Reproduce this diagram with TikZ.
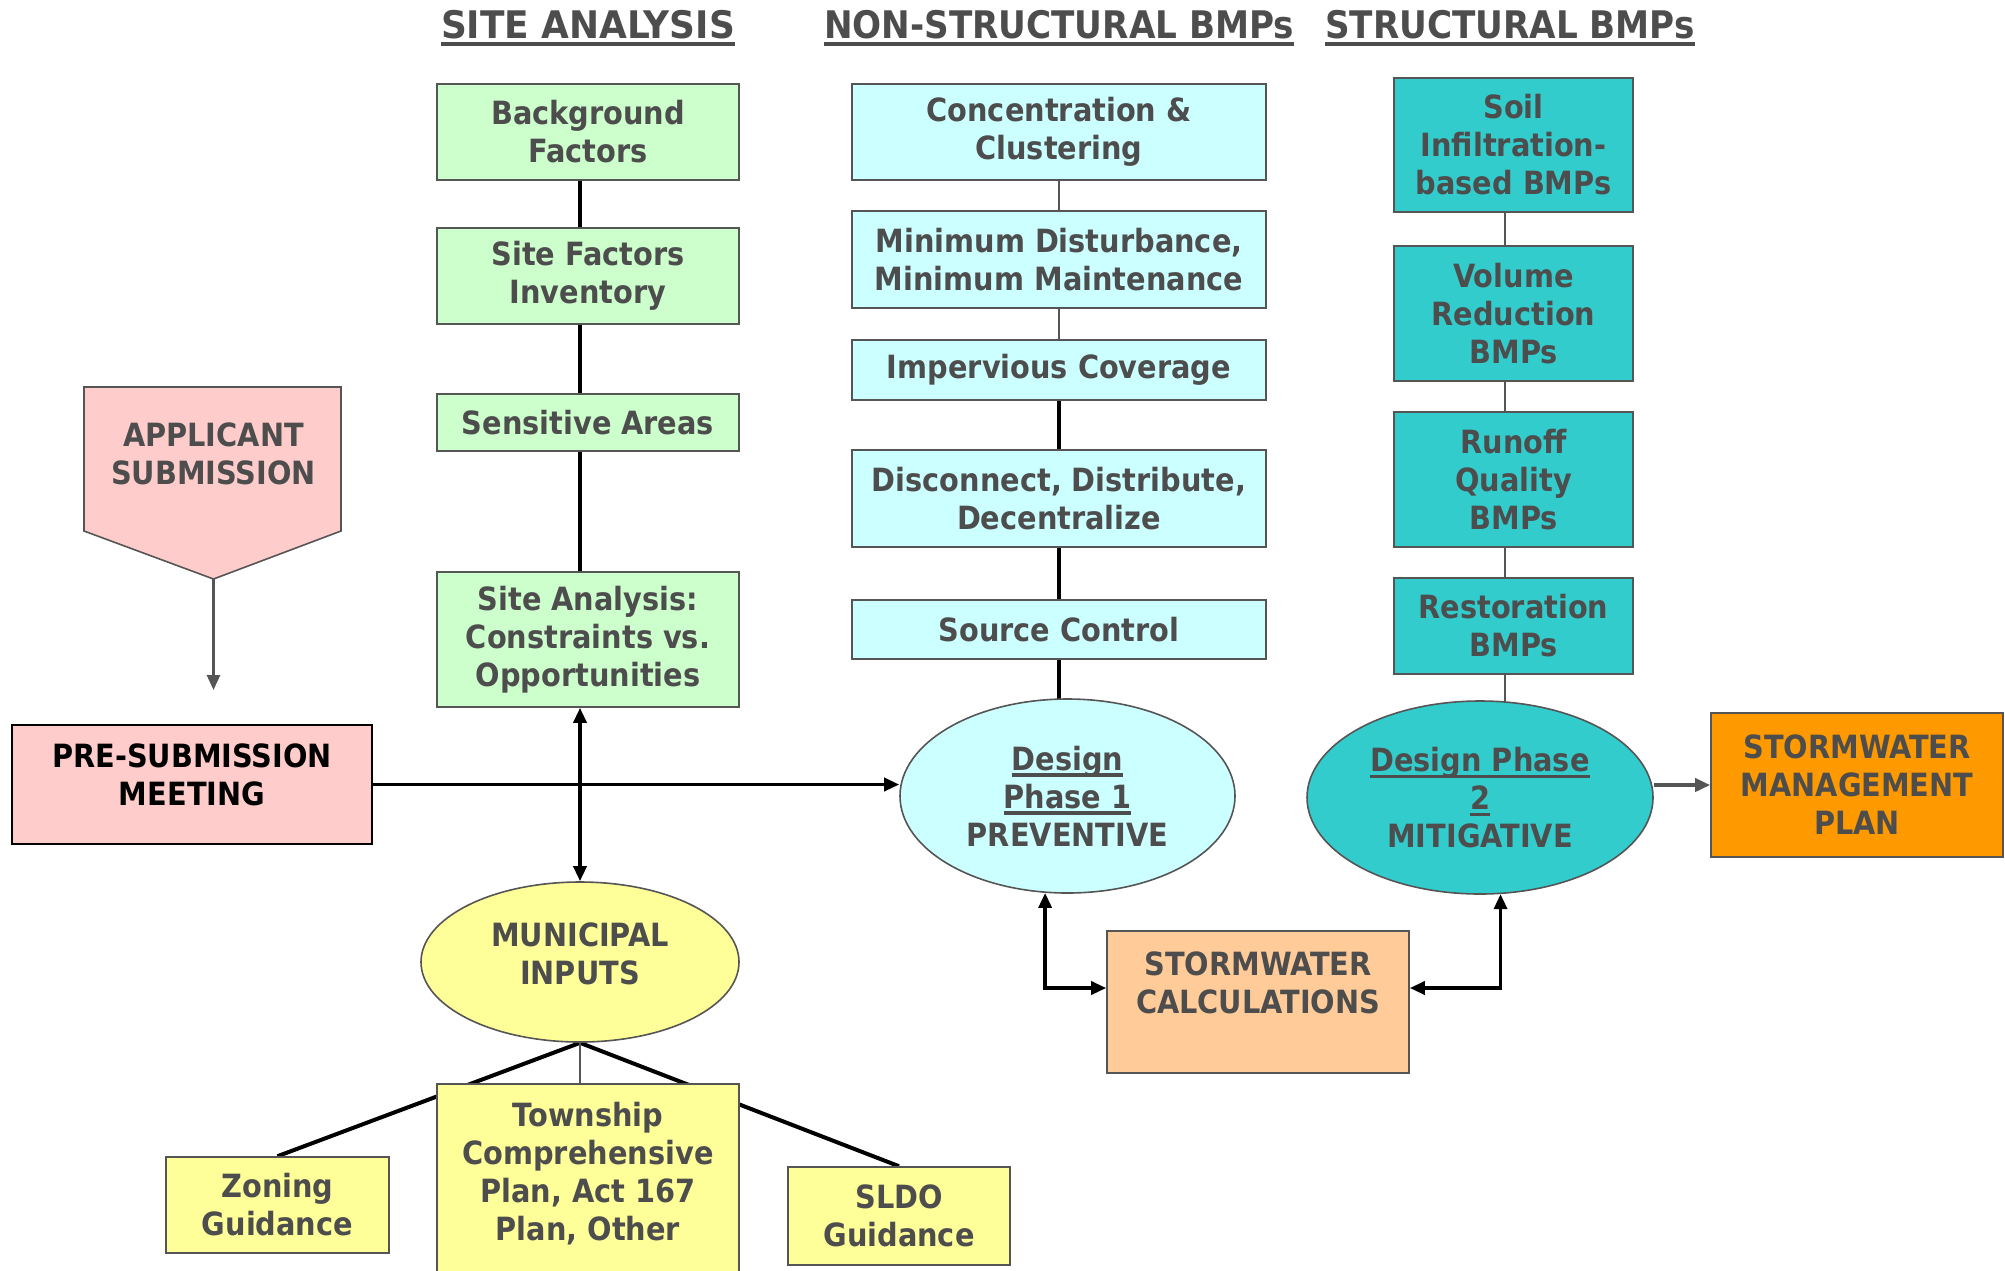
\documentclass[tikz,border=0pt]{standalone}
\usepackage{fontspec}
\setmainfont{DejaVu Sans Condensed}
\newcommand{\myul}[1]{\setbox0\hbox{#1}\rlap{\vrule width\wd0 height -1.6pt depth 3.2pt}\box0}
\usetikzlibrary{arrows.meta,backgrounds,calc,shapes.geometric}

\definecolor{txt}{HTML}{4D4D4D}
\definecolor{bord}{HTML}{555555}
\definecolor{cgreen}{HTML}{CCFFCC}
\definecolor{ccyan}{HTML}{CCFFFF}
\definecolor{cteal}{HTML}{33CCCC}
\definecolor{cpink}{HTML}{FFCCCC}
\definecolor{cyel}{HTML}{FFFF99}
\definecolor{corange}{HTML}{FF9900}
\definecolor{cpeach}{HTML}{FFCC99}

\tikzset{
  every node/.style={font=\bfseries\fontsize{16}{19}\selectfont, text=txt, align=center},
  box/.style={draw=bord, line width=0.8pt, inner sep=0pt},
  gbox/.style={box, fill=cgreen, minimum width=151pt},
  cbox/.style={box, fill=ccyan, minimum width=207pt},
  tbox/.style={box, fill=cteal, minimum width=119.5pt},
  ybox/.style={box, fill=cyel},
  ell/.style={ellipse, draw=bord, line width=0.8pt, inner sep=0pt},
  head/.style={font=\bfseries\fontsize{19}{22}\selectfont, inner sep=0pt, anchor=base},
  headline/.style={draw=txt, line width=2pt},
  blk/.style={draw=black, line width=1.7pt},
  gry/.style={draw=bord, line width=1.3pt},
  thk/.style={draw=black, line width=2pt},
  >={Triangle[length=7.5pt,width=6.5pt]},
}

\begin{document}
\begin{tikzpicture}[x=0.5pt,y=-0.5pt]
\useasboundingbox (0,0) rectangle (2005,1270);

% headings
\node[head] (h1) at (588,38) {\scalebox{1.05}[1]{SITE ANALYSIS}};
\node[head] (h2) at (1059,38) {NON-STRUCTURAL BMPs};
\node[head] (h3) at (1510,38) {STRUCTURAL BMPs};
\foreach \h in {h1,h2,h3}
  \draw[headline] ([yshift=-2.8pt]\h.base west) -- ([yshift=-2.8pt]\h.base east);

% site analysis column
\node[gbox, minimum height=48pt] (bg) at (588,132) {Background\\Factors};
\node[gbox, minimum height=48pt] (sf) at (588,276) {Site Factors\\Inventory};
\node[gbox, minimum height=28.5pt] (sa) at (588,422.5) {Sensitive Areas};
\node[gbox, minimum height=67.5pt] (sc) at (588,639.5) {Site Analysis:\\Constraints vs.\\Opportunities};

% non-structural column
\node[cbox, minimum height=48pt] (cc) at (1059,132) {Concentration \&\\Clustering};
\node[cbox, minimum height=48.5pt] (md) at (1059,259.5) {Minimum Disturbance,\\Minimum Maintenance};
\node[cbox, minimum height=30pt] (ic) at (1059,370) {Impervious Coverage};
\node[cbox, minimum height=48.5pt] (dd) at (1059,498.5) {Disconnect, Distribute,\\Decentralize};
\node[cbox, minimum height=29.5pt] (sco) at (1059,629.5) {Source Control};

% structural column
\node[tbox, minimum height=67pt] (si) at (1513.5,145) {Soil\\Infiltration-\\based BMPs};
\node[tbox, minimum height=67.5pt] (vr) at (1513.5,313.5) {Volume\\Reduction\\BMPs};
\node[tbox, minimum height=67.5pt] (rq) at (1513.5,479.5) {Runoff\\Quality\\BMPs};
\node[tbox, minimum height=48pt] (rb) at (1513.5,626) {Restoration\\BMPs};
\coordinate (tx) at (1505,0);

% applicant submission
\draw[draw=bord, fill=cpink, line width=0.8pt] (84,387) -- (341,387) -- (341,531) -- (213.5,579) -- (84,531) -- cycle;
\node (app) at (213.5,454) {APPLICANT\\SUBMISSION};
\coordinate (apptip) at (213.5,579);
\coordinate (append) at (213.5,690);

\node[box, draw=black, fill=cpink, minimum width=180pt, minimum height=59.5pt, text=black, text depth=10pt] (pre) at (192,784.5) {PRE-SUBMISSION\\MEETING};

% design phases
\node[ell, fill=ccyan, minimum width=167.5pt, minimum height=97pt] (p1) at (1067.5,796) {\myul{Design}\\\myul{Phase 1}\\PREVENTIVE};
\node[ell, fill=cteal, minimum width=173pt, minimum height=96.5pt] (p2) at (1480,797.5) {\myul{Design Phase}\\\myul{2}\\MITIGATIVE};
\node[box, fill=corange, minimum width=146pt, minimum height=72pt] (smp) at (1857,785) {STORMWATER\\MANAGEMENT\\PLAN};
\node[box, fill=cpeach, minimum width=151pt, minimum height=71pt] (calc) at (1258,1002) {STORMWATER\\CALCULATIONS\\\mbox{}};

% municipal inputs
\node[ell, fill=cyel, minimum width=159pt, minimum height=80pt, text depth=8pt] (mun) at (580,962) {MUNICIPAL\\INPUTS};
\node[ybox, minimum width=111.5pt, minimum height=48pt] (zon) at (277.5,1205) {Zoning\\Guidance};
\node[ybox, minimum width=151pt, minimum height=98pt, text depth=10.5pt] (town) at (588,1182) {Township\\Comprehensive\\Plan, Act 167\\Plan, Other};
\node[ybox, minimum width=111pt, minimum height=49pt] (sldo) at (899,1216) {SLDO\\Guidance};

\begin{scope}[on background layer]
  % site column connectors
  \draw[blk] (bg.south -| mun) -- (sf.north -| mun);
  \draw[blk] (sf.south -| mun) -- (sa.north -| mun);
  \draw[blk] (sa.south -| mun) -- (sc.north -| mun);
  % non-structural connectors
  \draw[gry] (cc) -- (md);
  \draw[gry] (md) -- (ic);
  \draw[blk] (ic) -- (dd);
  \draw[blk] (dd) -- (sco);
  \draw[blk] (sco.south) -- (sco.south |- p1.center);
  % structural connectors
  \draw[gry] (si.south -| tx) -- (vr.north -| tx);
  \draw[gry] (vr.south -| tx) -- (rq.north -| tx);
  \draw[gry] (rq.south -| tx) -- (rb.north -| tx);
  \draw[gry] (rb.south -| tx) -- (p2.center -| tx);
  % municipal
  \draw[thk] (mun.south) -- (zon.north);
  \draw[thk] (mun.south) -- (sldo.north);
  \draw[gry] (mun.south) -- (mun.south |- town.north);
\end{scope}

% arrows
\draw[gry, ->] (apptip) -- (append);
\draw[blk, ->] (pre.east) -- (pre.east -| p1.west);
\draw[blk, <->] (sc.south -| mun) -- (mun.north);
\draw[blk, <->] (p1.257) |- ([yshift=7pt]calc.west);
\draw[blk, <->] (p2.282) |- ([yshift=7pt]calc.east);
\draw[gry, line width=1.8pt, ->] (smp.west -| p2.east) -- (smp.west);
\end{tikzpicture}
\end{document}
